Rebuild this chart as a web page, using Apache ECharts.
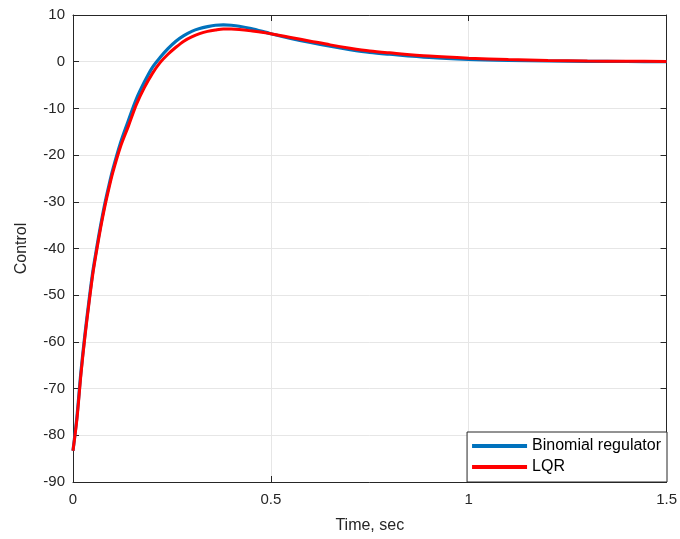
<!DOCTYPE html>
<html>
<head>
<meta charset="utf-8">
<script src="https://cdn.jsdelivr.net/npm/echarts@6/dist/echarts.min.js"></script>
<style>html,body{margin:0;padding:0;background:#fff}#c{width:680px;height:539px}</style>
</head>
<body>
<div id="c"></div>
<script>
var time     = [0, 0.01, 0.02, 0.03, 0.04, 0.05, 0.06, 0.07, 0.08, 0.09, 0.1, 0.12, 0.14, 0.16, 0.18, 0.2, 0.22, 0.24, 0.26, 0.28, 0.3, 0.32, 0.34, 0.36, 0.38, 0.4, 0.42, 0.45, 0.5, 0.55, 0.6, 0.65, 0.7, 0.75, 0.8, 0.9, 1.0, 1.1, 1.2, 1.3, 1.4, 1.5];
var binomial = [-83.3, -76, -66.5, -58.5, -51.5, -45, -39.8, -35, -30.6, -26.8, -23.3, -17.4, -12.6, -8.0, -4.4, -1.3, 0.9, 2.8, 4.4, 5.6, 6.5, 7.1, 7.5, 7.8, 7.9, 7.8, 7.6, 7.1, 6.0, 5.0, 4.1, 3.3, 2.6, 2.0, 1.6, 0.9, 0.5, 0.28, 0.15, 0.08, 0.04, 0.02];
var lqr      = [-83.3, -76.5, -67, -59, -52, -45.5, -40.3, -35.5, -31.2, -27.4, -23.9, -18.2, -13.8, -9.2, -5.6, -2.6, -0.2, 1.6, 3.1, 4.4, 5.3, 6.0, 6.5, 6.8, 7.0, 7.0, 6.9, 6.6, 6.0, 5.2, 4.4, 3.6, 2.9, 2.3, 1.9, 1.2, 0.75, 0.45, 0.28, 0.16, 0.09, 0.05];
var xTicks = {min: 0, max: 1.5, interval: 0.5};
var yTicks = {min: -90, max: 10, interval: 10};

function pairs(xs, ys) { return xs.map(function (x, i) { return [x, ys[i]]; }); }

var font = 'Liberation Sans, Arial, sans-serif';
var axisLineStyle = {show: true, onZero: false, lineStyle: {color: '#262626', width: 1}};
var tick = {show: true, inside: true, length: 6, lineStyle: {color: '#262626'}};
var chart = echarts.init(document.getElementById('c'));
chart.setOption({
  animation: false,
  textStyle: {fontFamily: font},
  grid: {left: 73, right: 13, top: 15, bottom: 57, containLabel: false},
  xAxis: [{
    type: 'value', position: 'bottom', min: xTicks.min, max: xTicks.max, interval: xTicks.interval,
    name: 'Time, sec', nameLocation: 'middle', nameGap: 36,
    nameTextStyle: {fontSize: 16, color: '#262626', fontFamily: font},
    axisLine: axisLineStyle, axisTick: tick,
    axisLabel: {fontSize: 15, color: '#262626', margin: 10, fontFamily: font},
    splitLine: {show: true, lineStyle: {color: '#e6e6e6', width: 1}}
  }, {
    type: 'value', position: 'top', min: xTicks.min, max: xTicks.max, interval: xTicks.interval,
    axisLine: axisLineStyle, axisTick: tick,
    axisLabel: {show: false}, splitLine: {show: false}
  }],
  yAxis: [{
    type: 'value', position: 'left', min: yTicks.min, max: yTicks.max, interval: yTicks.interval,
    name: 'Control', nameLocation: 'middle', nameGap: 43, nameRotate: 90,
    nameTextStyle: {fontSize: 16, color: '#262626', fontFamily: font},
    axisLine: axisLineStyle, axisTick: tick,
    axisLabel: {fontSize: 15, color: '#262626', margin: 8, fontFamily: font},
    splitLine: {show: true, lineStyle: {color: '#e6e6e6', width: 1}}
  }, {
    type: 'value', position: 'right', min: yTicks.min, max: yTicks.max, interval: yTicks.interval,
    axisLine: axisLineStyle, axisTick: tick,
    axisLabel: {show: false}, splitLine: {show: false}
  }],
  legend: {
    orient: 'vertical', right: 13, bottom: 57,
    backgroundColor: '#fff', borderColor: '#262626', borderWidth: 1, borderRadius: 0,
    padding: [6, 6, 7, 5], itemGap: 5, itemWidth: 55, itemHeight: 4, icon: 'rect',
    textStyle: {fontSize: 16, color: '#000', fontFamily: font},
    data: ['Binomial regulator', 'LQR']
  },
  series: [{
    name: 'Binomial regulator', type: 'line', xAxisIndex: 0, yAxisIndex: 0,
    data: pairs(time, binomial), showSymbol: false, smooth: 0.3,
    lineStyle: {color: '#0072BD', width: 3.2}, itemStyle: {color: '#0072BD'}
  }, {
    name: 'LQR', type: 'line', xAxisIndex: 0, yAxisIndex: 0,
    data: pairs(time, lqr), showSymbol: false, smooth: 0.3,
    lineStyle: {color: '#FF0000', width: 3}, itemStyle: {color: '#FF0000'}
  }]
});
</script>
</body>
</html>
